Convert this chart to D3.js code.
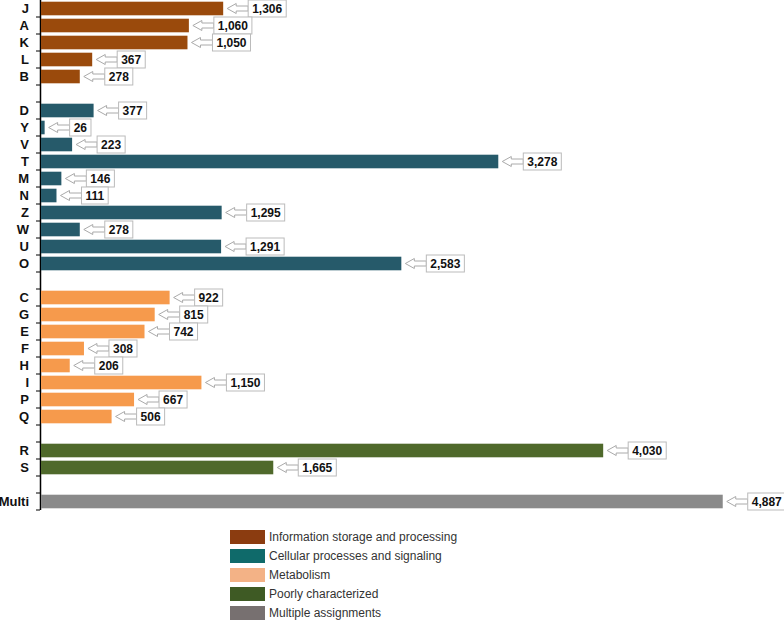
<!DOCTYPE html>
<html><head><meta charset="utf-8">
<script src="https://cdn.jsdelivr.net/npm/d3@7"></script>
<style>body{margin:0;background:#fff}svg{display:block}</style>
</head><body><svg id="c" width="784" height="620"></svg>
<script>
const categories = ["J","A","K","L","B","gap1","D","Y","V","T","M","N","Z","W","U","O","gap2","C","G","E","F","H","I","P","Q","gap3","R","S","gap4","Multi"];
const values =     [1306,1060,1050,367,278,null,377,26,223,3278,146,111,1295,278,1291,2583,null,922,815,742,308,206,1150,667,506,null,4030,1665,null,4887];
const groups =     [0,0,0,0,0,null,1,1,1,1,1,1,1,1,1,1,null,2,2,2,2,2,2,2,2,null,3,3,null,4];
const groupNames = ["Information storage and processing","Cellular processes and signaling","Metabolism","Poorly characterized","Multiple assignments"];
const barColors = ["#9a4a0c","#265a6a","#f69a4c","#4f692b","#8a8a8a"];
const legendColors = ["#8b3c10","#0f6a6a","#f3b286","#3e5a24","#777070"];

const svg = d3.select("#c");
const x = d3.scaleLinear().domain([0,5000]).range([41,738.5]);
const y = d3.scaleBand().domain(categories).range([0,510]).padding(0);
const step = y.step();
const fmt = d3.format(",");

// axis line & ticks
const g = svg.append("g");
g.append("line").attr("x1",40.5).attr("x2",40.5).attr("y1",0).attr("y2",510).attr("stroke","#000").attr("stroke-width",1.5);
const bounds = d3.range(1, categories.length+1).map(i=>i*step);
g.selectAll("line.tk").data(bounds).join("line").attr("class","tk")
  .attr("x1",36).attr("x2",40).attr("y1",d=>d).attr("y2",d=>d).attr("stroke","#000").attr("stroke-width",1);

const data = categories.map((c,i)=>({c,v:values[i],g:groups[i]})).filter(d=>d.v!==null);

// labels
svg.selectAll("text.cat").data(data).join("text").attr("class","cat")
  .attr("x",29).attr("y",d=>y(d.c)+step/2).attr("dy","0.36em")
  .attr("text-anchor","end").attr("font-family","Liberation Sans, Arial, sans-serif")
  .attr("font-weight","bold").attr("font-size",13).attr("fill","#111").text(d=>d.c);

// bars
svg.selectAll("rect.bar").data(data).join("rect").attr("class","bar")
  .attr("x",x(0)).attr("y",d=>y(d.c)+step*0.1).attr("height",step*0.8)
  .attr("width",d=>x(d.v)-x(0)).attr("fill",d=>barColors[d.g]);

// callouts
const cg = svg.selectAll("g.call").data(data).join("g").attr("class","call")
  .attr("transform",d=>`translate(${x(d.v)+4},${y(d.c)+step/2})`);
cg.append("path").attr("d","M0,0 L9,-5 L9,-2.5 L21,-2.5 L21,2.5 L9,2.5 L9,5 Z")
  .attr("fill","#fff").attr("stroke","#aaa").attr("stroke-width",1);
cg.append("text").attr("x",25).attr("dy","0.36em")
  .attr("font-family","Liberation Sans, Arial, sans-serif").attr("font-weight","bold")
  .attr("font-size",12).attr("fill","#111").text(d=>fmt(d.v));
cg.each(function(){
  const gg=d3.select(this); const t=gg.select("text"); const w=t.node().getComputedTextLength();
  gg.insert("rect","text").attr("x",21).attr("y",-8.5).attr("width",w+8).attr("height",17)
    .attr("fill","#fff").attr("stroke","#bbb").attr("stroke-width",1);
});

// legend
const lg = svg.append("g").attr("transform","translate(230,530)");
const li = lg.selectAll("g").data(groupNames).join("g").attr("transform",(d,i)=>`translate(0,${i*19})`);
li.append("rect").attr("width",35).attr("height",14).attr("fill",(d,i)=>legendColors[i]);
li.append("text").attr("x",39).attr("y",7).attr("dy","0.36em")
  .attr("font-family","Liberation Sans, Arial, sans-serif").attr("font-size",12).attr("fill","#333").text(d=>d);
</script></body></html>
